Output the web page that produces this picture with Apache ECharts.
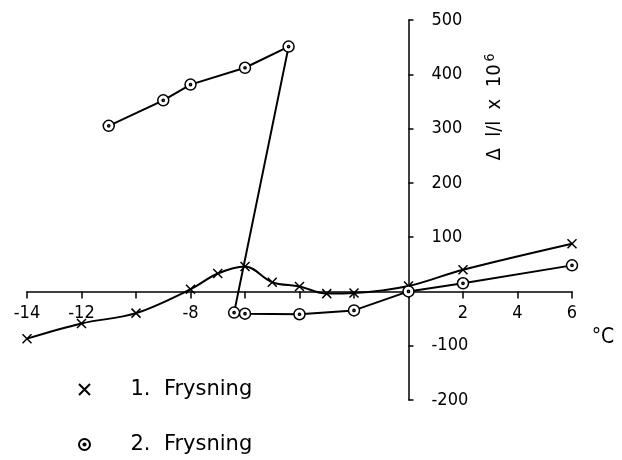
<!DOCTYPE html>
<html>
<head>
<meta charset="utf-8">
<script src="https://cdn.jsdelivr.net/npm/echarts@6/dist/echarts.min.js"></script>
<style>
  html, body { margin: 0; padding: 0; background: #fff; }
  #chart { width: 622px; height: 460px; }
</style>
</head>
<body>
<div id="chart"></div>
<script>
// 1. Frysning
const temps1 = [-14, -12, -10, -8, -7, -6, -5, -4, -3, -2, 0, 2, 6];
const frysning1 = [-87, -59, -40, 4, 33, 46, 17, 9, -4, -3, 10, 40, 88];
// 2. Frysning (rises, jumps down, then continues)
const temps2 = [-11, -9, -8, -6, -4.4, -6.4, -6, -4, -2, 0, 2, 6];
const frysning2 = [305, 352, 381, 412, 451, -39, -41, -42, -35, 0, 15, 48];
// labelled ticks
const xTickLabels = [-14, -12, -8, 2, 4, 6];
const yTickLabels = [500, 400, 300, 200, 100, -100, -200];

const xMin = -14, xMax = 6, yMin = -200, yMax = 500;
const W = 622, H = 460;
const grid = {left: 27, right: 50, top: 20, bottom: 60};
const gridW = W - grid.left - grid.right;
const gridH = H - grid.top - grid.bottom;
// axes cross at the origin, labels go with them
const xAxisOffset = -gridH * (0 - yMin) / (yMax - yMin);
const yAxisOffset = -gridW * (xMax - 0) / (xMax - xMin);

const font = '"DejaVu Sans Condensed", "Liberation Sans Narrow", "DejaVu Sans", sans-serif';
const crossPath = 'path://M0,0L10,10M10,0L0,10';
const dotCirclePath = 'path://M0,10A10,10,0,1,1,20,10A10,10,0,1,1,0,10ZM8,10A2,2,0,1,1,12,10A2,2,0,1,1,8,10Z';

// one legend box per entry, stacked by hand
function legendBox(name, icon, top) {
    return {
        left: 78,
        top: top,
        padding: 0,
        itemWidth: 12,
        itemHeight: 11,
        selectedMode: false,
        formatter: n => n.replace('. ', '.  '),
        textStyle: {
            color: '#000',
            fontSize: 21,
            fontFamily: '"DejaVu Sans", sans-serif',
            padding: [0, 0, 0, 35]
        },
        data: [{name: name, icon: icon}]
    };
}

const chart = echarts.init(document.getElementById('chart'));

const option = {
    backgroundColor: '#fff',
    animation: false,
    grid: Object.assign({outerBoundsMode: 'none'}, grid),
    legend: [
        legendBox('1. Frysning', crossPath, 379),
        legendBox('2. Frysning', dotCirclePath, 434)
    ],
    xAxis: {
        type: 'value',
        min: xMin,
        max: xMax,
        interval: 2,
        offset: xAxisOffset,
        axisLine: {
            onZero: false,
            lineStyle: {color: '#000', width: 1.5}
        },
        axisTick: {
            show: true,
            inside: false,
            length: 7,
            lineStyle: {color: '#000', width: 1.5}
        },
        axisLabel: {
            color: '#000',
            fontSize: 18,
            fontFamily: font,
            margin: 13,
            formatter: v => xTickLabels.includes(v) ? String(v) : ''
        },
        splitLine: {show: false}
    },
    yAxis: {
        type: 'value',
        position: 'right',
        min: yMin,
        max: yMax,
        interval: 100,
        offset: yAxisOffset,
        axisLine: {
            show: true,
            onZero: false,
            lineStyle: {color: '#000', width: 1.5}
        },
        axisTick: {
            show: true,
            inside: false,
            length: 5,
            lineStyle: {color: '#000', width: 1.5}
        },
        axisLabel: {
            color: '#000',
            fontSize: 18,
            fontFamily: font,
            margin: 23,
            formatter: v => yTickLabels.includes(v) ? String(v) : ''
        },
        splitLine: {show: false}
    },
    graphic: [
        {
            type: 'text',
            x: 495,
            y: 107,
            rotation: Math.PI / 2,
            style: {
                text: 'Δ  l/l  x  10{s|6}',
                fill: '#000',
                font: '20px ' + font,
                align: 'center',
                verticalAlign: 'middle',
                rich: {
                    s: {fontSize: 14, fontFamily: font, verticalAlign: 'top', padding: [0, 0, 9, 3]}
                }
            }
        },
        {
            type: 'text',
            x: 603,
            y: 338,
            style: {
                text: '°C',
                fill: '#000',
                font: '21px ' + font,
                align: 'center',
                verticalAlign: 'middle'
            }
        }
    ],
    series: [
        {
            name: '1. Frysning',
            type: 'line',
            data: temps1.map((t, i) => [t, frysning1[i]]),
            smooth: 0.35,
            symbol: crossPath,
            symbolSize: 9,
            color: '#000',
            lineStyle: {color: '#000', width: 2},
            itemStyle: {color: '#fff', borderColor: '#000', borderWidth: 1.5},
            z: 3
        },
        {
            name: '2. Frysning',
            type: 'line',
            data: temps2.map((t, i) => [t, frysning2[i]]),
            symbol: dotCirclePath,
            symbolSize: 11,
            color: '#000',
            lineStyle: {color: '#000', width: 2},
            itemStyle: {color: '#fff', borderColor: '#000', borderWidth: 1.5},
            z: 4
        }
    ]
};

chart.setOption(option);
</script>
</body>
</html>
